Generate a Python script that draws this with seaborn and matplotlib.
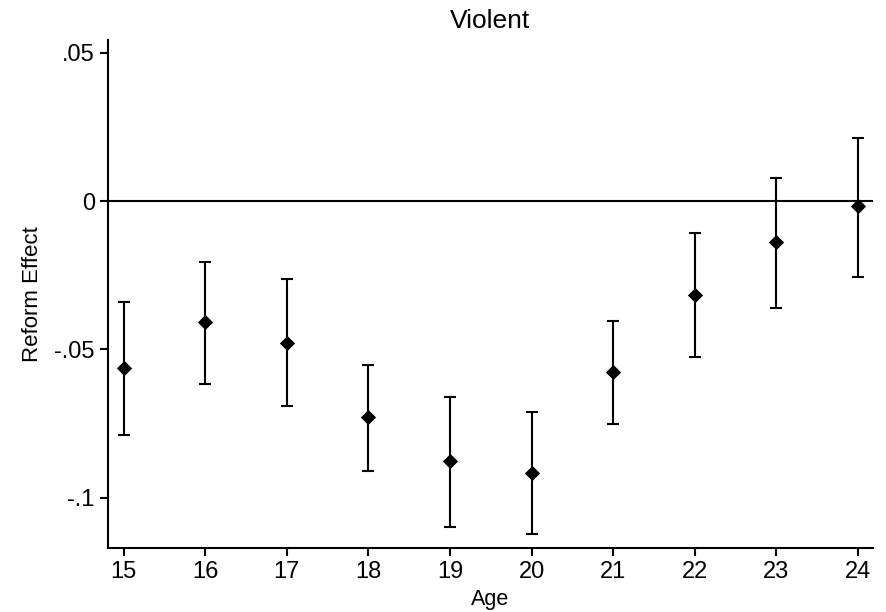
import matplotlib
matplotlib.use("Agg")
import matplotlib.pyplot as plt
import seaborn as sns
import pandas as pd

ages = [15, 16, 17, 18, 19, 20, 21, 22, 23, 24]
effect = [-0.0562, -0.0408, -0.0480, -0.0729, -0.0877, -0.0916, -0.0575, -0.0318, -0.0138, -0.0016]
ci_low = [-0.0789, -0.0617, -0.0692, -0.0911, -0.1098, -0.1123, -0.0752, -0.0526, -0.0360, -0.0257]
ci_high = [-0.0342, -0.0206, -0.0264, -0.0553, -0.0662, -0.0712, -0.0405, -0.0109, 0.0077, 0.0211]
y_ticks = [-0.1, -0.05, 0, 0.05]
y_ticklabels = ["-.1", "-.05", "0", ".05"]

df = pd.DataFrame({"Age": ages, "Effect": effect, "lo": ci_low, "hi": ci_high})

sns.set_style("ticks")
plt.rcParams["font.family"] = ["Liberation Sans", "DejaVu Sans"]
plt.rcParams["text.color"] = "black"
plt.rcParams["axes.labelcolor"] = "black"
plt.rcParams["axes.titlecolor"] = "black"

fig = plt.figure(figsize=(8.87, 6.12), dpi=100)
ax = fig.add_axes([0.1218, 0.1051, 0.8621, 0.8295])

ax.axhline(0, color="black", lw=1.5, zorder=1)
ax.errorbar(df["Age"], df["Effect"],
            yerr=[df["Effect"] - df["lo"], df["hi"] - df["Effect"]],
            fmt="none", ecolor="black", elinewidth=1.5, capsize=4.5, capthick=1.5, zorder=2)
sns.scatterplot(data=df, x="Age", y="Effect", marker="D", s=60, color="black",
                edgecolor="black", linewidth=0, ax=ax, zorder=3)

ax.set_xlim(14.81, 24.18)
ax.set_ylim(-0.1169, 0.0543)
ax.set_xticks(ages)
ax.set_xticklabels([str(a) for a in ages])
ax.set_yticks(y_ticks)
ax.set_yticklabels(y_ticklabels)
sns.despine(ax=ax)
for s in ["left", "bottom"]:
    ax.spines[s].set_linewidth(1.5)
    ax.spines[s].set_color("black")
ax.tick_params(axis="both", length=6, width=1.5, labelsize=17, colors="black", pad=3.5)

ax.set_xlabel("Age", fontsize=15.5, labelpad=4.5, color="black")
ax.set_ylabel("Reform Effect", fontsize=16, labelpad=8, color="black")
ax.set_title("Violent", fontsize=19, pad=8.5, color="black")

fig.savefig("out.png", dpi=100)
